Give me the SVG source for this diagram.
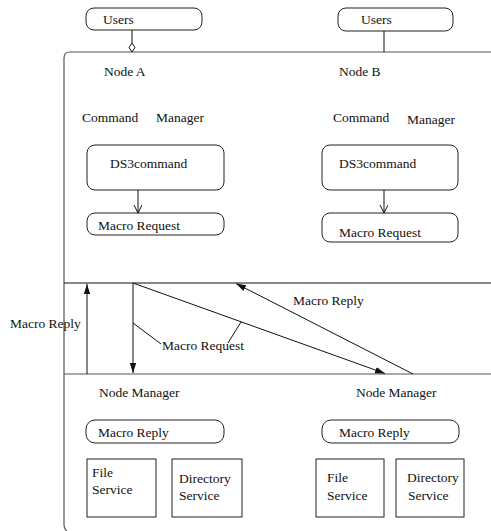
<svg xmlns="http://www.w3.org/2000/svg" width="491" height="531" viewBox="0 0 491 531">
<style>
text{font-family:"Liberation Serif","Times New Roman",serif;font-size:13.5px;fill:#111}
.box{fill:#fff;stroke:#222;stroke-width:1}
.ln{fill:none;stroke:#111;stroke-width:1}
.frame{fill:none;stroke:#555;stroke-width:1.2}
</style>
<defs>
<marker id="open" markerWidth="10" markerHeight="10" refX="8" refY="4" orient="auto" markerUnits="userSpaceOnUse">
<path d="M0,0 L8,4 L0,8" fill="none" stroke="#111" stroke-width="1"/>
</marker>
<marker id="fill" markerWidth="12" markerHeight="10" refX="10" refY="4" orient="auto" markerUnits="userSpaceOnUse">
<path d="M0,0.8 L10,4 L0,7.2 Z" fill="#111"/>
</marker>
</defs>

<g id="frame">
<path class="frame" d="M491,52 H70 Q64,52 64,58 V524 Q64,529 67,531"/>
<line x1="64" y1="283" x2="491" y2="283" stroke="#111" stroke-width="1.2"/>
<line x1="64" y1="374" x2="491" y2="374" stroke="#555" stroke-width="1.2"/>
</g>

<g id="users-a"><rect class="box" x="86" y="8" width="116" height="22" rx="8"/><text x="103" y="24">Users</text></g>
<g id="users-b"><rect class="box" x="338" y="8" width="115" height="23" rx="8"/><text x="361" y="24">Users</text></g>

<g id="node-a-labels"><text x="104" y="76">Node  A</text><text x="82" y="122">Command</text><text x="156" y="122">Manager</text></g>
<g id="node-b-labels"><text x="339" y="76">Node  B</text><text x="333" y="122">Command</text><text x="407" y="124">Manager</text></g>

<g id="ds3-a"><rect class="box" x="87" y="145" width="137" height="45" rx="8"/><text x="110" y="168">DS3command</text></g>
<g id="ds3-b"><rect class="box" x="322" y="145" width="136" height="45" rx="8"/><text x="339" y="168">DS3command</text></g>
<g id="req-a"><rect class="box" x="87" y="213" width="137" height="22" rx="8"/><text x="98" y="230">Macro Request</text></g>
<g id="req-b"><rect class="box" x="322" y="213" width="136" height="29" rx="8"/><text x="339" y="237">Macro Request</text></g>

<g id="nm-labels"><text x="99" y="397">Node  Manager</text><text x="356" y="397">Node Manager</text></g>
<g id="reply-a"><rect class="box" x="86" y="420" width="138" height="23" rx="9"/><text x="98" y="437">Macro Reply</text></g>
<g id="reply-b"><rect class="box" x="322" y="420" width="137" height="23" rx="9"/><text x="339" y="437">Macro Reply</text></g>
<g id="file-a"><rect class="box" x="87" y="459" width="69" height="58"/><text x="92" y="477">File</text><text x="92" y="494">Service</text></g>
<g id="dir-a"><rect class="box" x="172" y="459" width="70" height="58"/><text x="179" y="483">Directory</text><text x="179" y="500">Service</text></g>
<g id="file-b"><rect class="box" x="316" y="459" width="68" height="58"/><text x="327" y="482">File</text><text x="327" y="500">Service</text></g>
<g id="dir-b"><rect class="box" x="396" y="459" width="68" height="58"/><text x="407" y="482">Directory</text><text x="408" y="500">Service</text></g>

<g id="connectors">
<line class="ln" x1="132" y1="30" x2="132" y2="43"/>
<polygon points="132,43 135,47.5 132,52 129,47.5" fill="#fff" stroke="#111" stroke-width="1"/>
<line class="ln" x1="384" y1="31" x2="384" y2="52"/>
<line class="ln" x1="138" y1="190" x2="138" y2="213" marker-end="url(#open)"/>
<line class="ln" x1="384" y1="190" x2="384" y2="213" marker-end="url(#open)"/>
<line class="ln" x1="87" y1="374" x2="87" y2="284" marker-end="url(#fill)"/>
<line class="ln" x1="133" y1="283" x2="133" y2="373" marker-end="url(#fill)"/>
<line class="ln" x1="133" y1="283" x2="385" y2="373.5" marker-end="url(#fill)"/>
<line class="ln" x1="413" y1="374" x2="236" y2="283.5" marker-end="url(#fill)"/>
<line class="ln" x1="133" y1="323" x2="161" y2="344"/>
<line class="ln" x1="241" y1="322" x2="228" y2="343"/>
</g>
<g id="labels">
<text x="10" y="328">Macro Reply</text>
<text x="162" y="350">Macro Request</text>
<text x="293" y="305">Macro Reply</text>
</g>
</svg>
